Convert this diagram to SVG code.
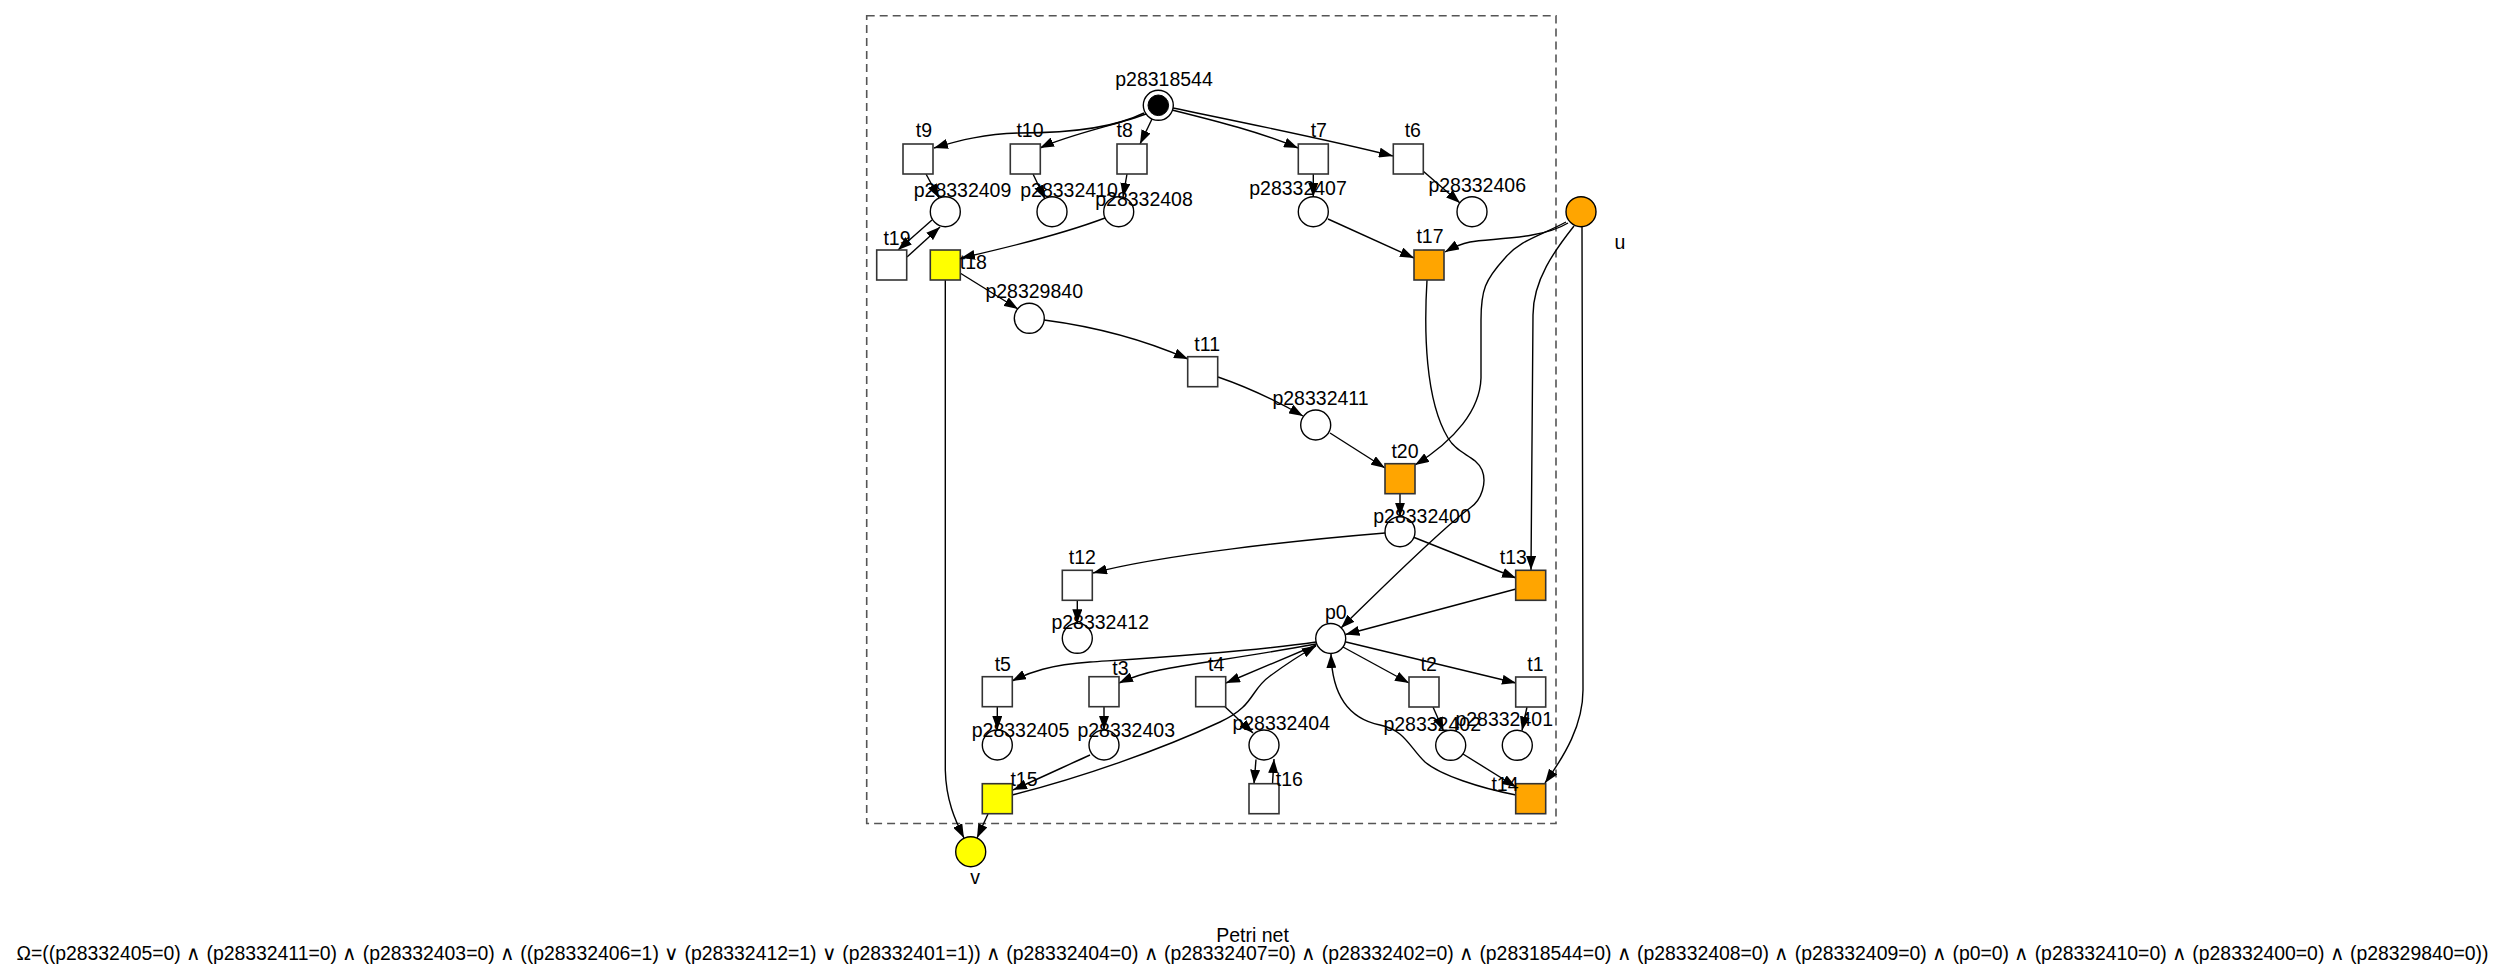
<svg xmlns="http://www.w3.org/2000/svg" width="2505" height="980" viewBox="0 0 2505 980">
<defs>
<style>
.pl{fill:#fff;stroke:#000;stroke-width:1.4}
.tr{fill:#fff;stroke:#333;stroke-width:1.6}
.yl{fill:#ffff00}
.or{fill:#ffa500}
.e{fill:none;stroke:#000;stroke-width:1.4;marker-end:url(#ah)}
.ln{fill:none;stroke:#000;stroke-width:1.4}
text{font-family:"Liberation Sans",Arial,sans-serif;font-size:19.5px;fill:#000;text-anchor:middle}
</style>
<marker id="ah" viewBox="0 0 14 10" refX="14" refY="5" markerWidth="14" markerHeight="10" markerUnits="userSpaceOnUse" orient="auto">
<path d="M0,0 L14,5 L0,10 z" fill="#000"/>
</marker>
</defs>
<rect width="2505" height="980" fill="#fff"/>
<rect id="cluster" x="866.7" y="15.7" width="689.3" height="807.8" fill="none" stroke="#555" stroke-width="1.6" stroke-dasharray="8,5"/>

<g id="edges">
<path class="e" d="M1144,113 C1110,130 1060,133 1020,133 C985,134 960,140 934,148"/>
<path class="e" d="M1146,114 C1120,124 1070,134 1040,148"/>
<path class="e" d="M1152,119 L1140,144"/>
<path class="e" d="M1172,110 C1220,122 1260,132 1298,148"/>
<path class="e" d="M1173,108 C1250,124 1330,140 1393,156"/>
<path class="e" d="M926,174 L939,198"/>
<path class="e" d="M1033,174 L1045,199"/>
<path class="e" d="M1127,174 L1123,197"/>
<path class="e" d="M1313.3,174 L1313.3,197"/>
<path class="e" d="M1423,171 L1460,203"/>
<path class="e" d="M932,220 L898,250"/>
<path class="e" d="M907,257 L940,227"/>
<path class="e" d="M1105,218 C1060,235 1010,247 961,258"/>
<path class="e" d="M1328,219 L1414,258"/>
<path class="e" d="M1568,223 C1540,240 1490,238 1470,242 C1460,244 1452,248 1445,252"/>
<path class="e" d="M1566,222 C1540,236 1520,240 1505,258 C1485,280 1481,290 1481,320 L1481,378 C1480,410 1455,440 1415,465"/>
<path class="e" d="M1574,226 C1555,250 1533,280 1533,315 L1531,570"/>
<path class="e" d="M1582,227 L1583,690 C1583,725 1565,755 1545,783"/>
<path class="e" d="M960,273 L1018,309"/>
<path class="e" d="M945.3,280 L945.3,770 C946,800 955,820 964,838"/>
<path class="e" d="M1044,320 C1090,326 1140,338 1188,359"/>
<path class="e" d="M1218,377 C1250,388 1275,400 1303,416"/>
<path class="e" d="M1330,433 L1385,468"/>
<path class="e" d="M1400,493.7 L1400,516.7"/>
<path class="e" d="M1427,280 C1424,330 1425,400 1448,438 C1458,455 1475,455 1482,470 C1487,482 1482,500 1470,508 C1440,530 1380,590 1341,628"/>
<path class="e" d="M1385,533 C1300,540 1160,555 1093,573"/>
<path class="e" d="M1413,537 L1516,578"/>
<path class="e" d="M1516,589 L1345.5,634.5"/>
<path class="e" d="M1077.3,600.3 L1077.3,623.3"/>
<path class="e" d="M1316,642 C1250,652 1150,658 1090,662 C1050,665 1030,672 1012,681"/>
<path class="e" d="M1316,644 C1250,656 1190,664 1160,670 C1140,674 1130,678 1119,683"/>
<path class="e" d="M1316,645 L1226,683"/>
<path class="e" d="M1012,795 C1080,778 1160,750 1220,722 C1255,706 1250,690 1270,676 C1285,665 1300,655 1316,646"/>
<path class="e" d="M1343,647 L1409,683"/>
<path class="e" d="M1346,642 L1516,683"/>
<path class="e" d="M997.3,706.7 L997.3,730"/>
<path class="e" d="M1104,706.7 L1104,730"/>
<path class="e" d="M1225,706.7 L1253,733"/>
<path class="e" d="M1256,759.5 L1254,783.7"/>
<path class="e" d="M1272.5,783.7 L1274,759"/>
<path class="e" d="M1090,755 C1070,764 1040,778 1013,790"/>
<path class="e" d="M988,814 L977,838"/>
<path class="e" d="M1433,707 L1443.5,731"/>
<path class="e" d="M1527,707 L1522,730.5"/>
<path class="e" d="M1463,754 L1516,787"/>
<path class="e" d="M1516,795 C1480,788 1440,775 1425,762 C1410,748 1405,730 1380,725 C1345,718 1332,690 1331,654"/>
</g>

<g id="p28318544"><circle class="pl" cx="1158.3" cy="105.3" r="15"/><circle cx="1158.3" cy="105.3" r="10.3" fill="#000" stroke="#000" stroke-width="1"/><text x="1164" y="86">p28318544</text></g>
<g id="t9"><rect class="tr" x="903" y="144" width="30" height="30"/><text x="924" y="137.3">t9</text></g>
<g id="t10"><rect class="tr" x="1010.3" y="144" width="30" height="30"/><text x="1030" y="137.3">t10</text></g>
<g id="t8"><rect class="tr" x="1117" y="144" width="30" height="30"/><text x="1124.7" y="137.3">t8</text></g>
<g id="t7"><rect class="tr" x="1298.3" y="144" width="30" height="30"/><text x="1318.8" y="137.3">t7</text></g>
<g id="t6"><rect class="tr" x="1393.3" y="144" width="30" height="30"/><text x="1412.8" y="137.3">t6</text></g>
<g id="p28332409"><circle class="pl" cx="945.3" cy="211.7" r="15"/><text x="962.5" y="196.7">p28332409</text></g>
<g id="p28332410"><circle class="pl" cx="1052" cy="211.7" r="15"/><text x="1069" y="196.7">p28332410</text></g>
<g id="p28332408"><circle class="pl" cx="1118.7" cy="211.7" r="15"/><text x="1144" y="206">p28332408</text></g>
<g id="p28332407"><circle class="pl" cx="1313.3" cy="211.7" r="15"/><text x="1298" y="195">p28332407</text></g>
<g id="p28332406"><circle class="pl" cx="1472" cy="211.7" r="15"/><text x="1477.2" y="191.7">p28332406</text></g>
<g id="u"><circle class="pl or" cx="1581" cy="211.7" r="15"/><text x="1620" y="249.3">u</text></g>
<g id="t19"><rect class="tr" x="876.7" y="250" width="30" height="30"/><text x="897" y="245">t19</text></g>
<g id="t18"><rect class="tr yl" x="930.3" y="250" width="30" height="30"/><text x="973.3" y="269.3">t18</text></g>
<g id="t17"><rect class="tr or" x="1414" y="250" width="30" height="30"/><text x="1430" y="243.3">t17</text></g>
<g id="p28329840"><circle class="pl" cx="1029.3" cy="318.3" r="15"/><text x="1034.2" y="298.3">p28329840</text></g>
<g id="t11"><rect class="tr" x="1187.7" y="356.7" width="30" height="30"/><text x="1207.2" y="350.7">t11</text></g>
<g id="p28332411"><circle class="pl" cx="1315.7" cy="425" r="15"/><text x="1320.5" y="405">p28332411</text></g>
<g id="t20"><rect class="tr or" x="1385" y="463.7" width="30" height="30"/><text x="1405" y="458.3">t20</text></g>
<g id="p28332400"><circle class="pl" cx="1400" cy="531.7" r="15"/><text x="1422" y="522.7">p28332400</text></g>
<g id="t12"><rect class="tr" x="1062.3" y="570.3" width="30" height="30"/><text x="1082.3" y="564.3">t12</text></g>
<g id="t13"><rect class="tr or" x="1515.7" y="570.3" width="30" height="30"/><text x="1513.3" y="564">t13</text></g>
<g id="p28332412"><circle class="pl" cx="1077.3" cy="638.3" r="15"/><text x="1100.2" y="629.3">p28332412</text></g>
<g id="p0"><circle class="pl" cx="1330.7" cy="638.5" r="15"/><text x="1335.8" y="619">p0</text></g>
<g id="t5"><rect class="tr" x="982.3" y="676.7" width="30" height="30"/><text x="1002.8" y="670.7">t5</text></g>
<g id="t3"><rect class="tr" x="1089" y="676.7" width="30" height="30"/><text x="1120.5" y="675">t3</text></g>
<g id="t4"><rect class="tr" x="1195.7" y="676.7" width="30" height="30"/><text x="1216.2" y="670.7">t4</text></g>
<g id="t2"><rect class="tr" x="1409" y="677" width="30" height="30"/><text x="1428.7" y="670.7">t2</text></g>
<g id="t1"><rect class="tr" x="1515.7" y="677" width="30" height="30"/><text x="1535.5" y="670.7">t1</text></g>
<g id="p28332405"><circle class="pl" cx="997.3" cy="745" r="15"/><text x="1020.5" y="736.7">p28332405</text></g>
<g id="p28332403"><circle class="pl" cx="1104" cy="745" r="15"/><text x="1126.2" y="736.7">p28332403</text></g>
<g id="p28332404"><circle class="pl" cx="1264" cy="745" r="15"/><text x="1281.2" y="730">p28332404</text></g>
<g id="p28332402"><circle class="pl" cx="1450.7" cy="745.3" r="15"/><text x="1432.2" y="730.7">p28332402</text></g>
<g id="p28332401"><circle class="pl" cx="1517.3" cy="745.3" r="15"/><text x="1504.2" y="726">p28332401</text></g>
<g id="t15"><rect class="tr yl" x="982.3" y="783.7" width="30" height="30"/><text x="1024" y="785.7">t15</text></g>
<g id="t16"><rect class="tr" x="1249" y="783.7" width="30" height="30"/><text x="1289.3" y="785.7">t16</text></g>
<g id="t14"><rect class="tr or" x="1515.7" y="783.7" width="30" height="30"/><text x="1505" y="790.7">t14</text></g>
<g id="v"><circle class="pl yl" cx="970.7" cy="851.7" r="15"/><text x="975" y="884">v</text></g>

<g id="caption">
<text x="1252.5" y="942.3">Petri net</text>
<text x="1252.5" y="960" textLength="2472" lengthAdjust="spacingAndGlyphs">Ω=((p28332405=0) ∧ (p28332411=0) ∧ (p28332403=0) ∧ ((p28332406=1) ∨ (p28332412=1) ∨ (p28332401=1)) ∧ (p28332404=0) ∧ (p28332407=0) ∧ (p28332402=0) ∧ (p28318544=0) ∧ (p28332408=0) ∧ (p28332409=0) ∧ (p0=0) ∧ (p28332410=0) ∧ (p28332400=0) ∧ (p28329840=0))</text>
</g>
</svg>
